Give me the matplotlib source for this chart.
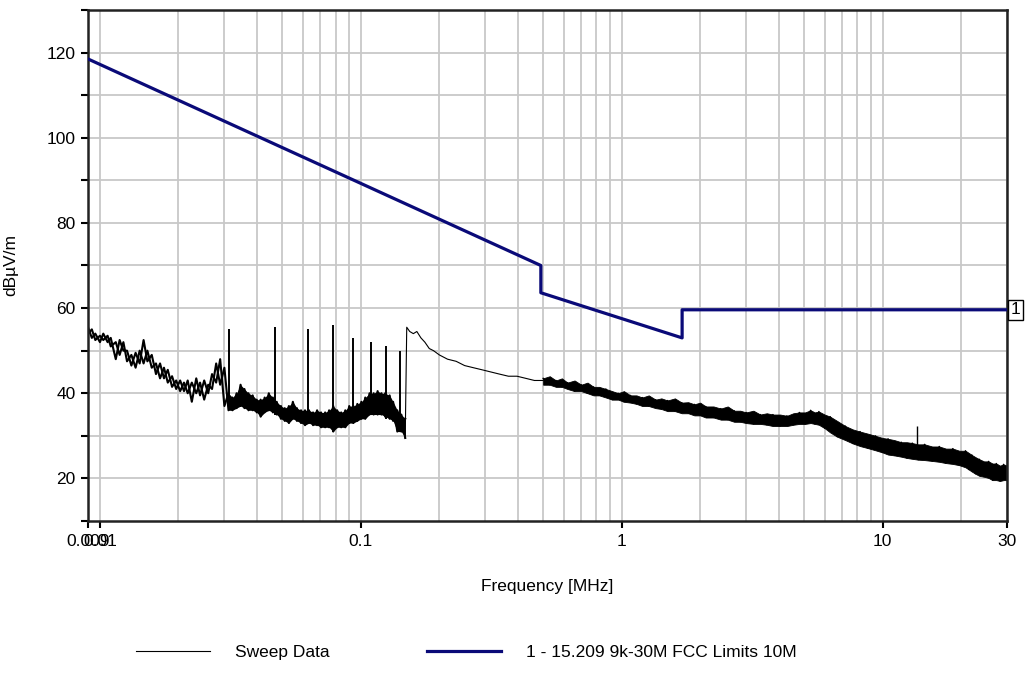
import matplotlib
matplotlib.use("Agg")
import matplotlib.pyplot as plt
import matplotlib.transforms as mtransforms

plt.rcParams['font.family'] = ['Liberation Sans', 'DejaVu Sans']

# ---------------- data ----------------
# Limit line: 15.209 9k-30M FCC Limits 10M
limit_f = [0.009, 0.49, 0.49, 1.705, 1.705, 30.0]
limit_v = [118.5, 70.0, 63.6, 53.0, 59.6, 59.6]

# Sweep data, noisy region 0.009-0.148 MHz (frequency, upper, lower of the noise)
bandA_f = [0.0090, 0.00931, 0.0096, 0.0100, 0.0103, 0.0107, 0.0110, 0.0115, 0.0119, 0.0123,
           0.0127, 0.0132, 0.0137, 0.0142, 0.0147, 0.0152, 0.0158, 0.0164, 0.0170, 0.0176,
           0.0182, 0.0189, 0.0196, 0.0203, 0.0210, 0.0217, 0.0225, 0.0234, 0.0242, 0.0251,
           0.0260, 0.0269, 0.0279, 0.0289, 0.0300, 0.0311, 0.0322, 0.0334, 0.0346, 0.0358,
           0.0371, 0.0385, 0.0399, 0.0413, 0.0428, 0.0444, 0.0460, 0.0476, 0.0494, 0.0511,
           0.0530, 0.0549, 0.0569, 0.0590, 0.0611, 0.0633, 0.0656, 0.0680, 0.0704, 0.0730,
           0.0756, 0.0784, 0.0812, 0.0841, 0.0872, 0.0903, 0.0936, 0.0970, 0.1005, 0.104,
           0.108, 0.112, 0.116, 0.120, 0.124, 0.129, 0.133, 0.138, 0.143, 0.148]
bandA_hi = [55.5, 55.0, 54.0, 53.5, 54.0, 53.5, 53.0, 52.0, 52.5, 52.0,
            50.0, 49.0, 49.5, 50.0, 52.5, 50.0, 49.0, 47.0, 47.0, 46.0,
            45.5, 44.0, 43.0, 43.0, 42.5, 43.0, 42.5, 43.5, 42.5, 43.0,
            42.0, 44.5, 47.0, 48.0, 46.0, 40.0, 39.0, 40.0, 42.0, 41.0,
            40.0, 39.5, 38.5, 38.5, 39.0, 40.0, 39.0, 38.0, 37.0, 36.5,
            37.0, 38.0, 36.5, 36.0, 36.0, 36.0, 35.5, 36.0, 35.5, 35.5,
            36.0, 37.0, 36.0, 35.5, 36.0, 37.0, 37.0, 37.5, 38.0, 39.0,
            40.0, 40.0, 40.5, 40.0, 40.0, 39.5, 38.0, 36.0, 35.0, 34.0]
bandA_lo = [54.0, 53.0, 52.5, 52.0, 52.5, 52.0, 51.0, 48.0, 49.0, 50.0,
            47.5, 46.5, 46.0, 47.0, 47.0, 47.5, 46.0, 44.5, 43.5, 43.5,
            42.5, 41.5, 41.0, 40.5, 40.5, 40.0, 38.0, 40.0, 39.5, 38.5,
            40.0, 41.0, 42.5, 42.0, 37.0, 36.0, 36.0, 36.5, 37.0, 36.5,
            36.0, 36.0, 35.5, 34.5, 35.5, 36.0, 35.5, 35.0, 34.0, 33.5,
            33.0, 34.0, 33.5, 33.0, 32.5, 33.0, 32.5, 32.5, 32.0, 32.0,
            32.0, 31.0, 32.0, 32.0, 32.0, 33.0, 33.0, 33.5, 34.0, 34.0,
            35.0, 35.0, 35.0, 35.0, 34.5, 34.0, 33.5, 31.0, 31.0, 29.5]

# Harmonic spikes below 0.15 MHz (frequency, top, bottom)
spike_f = [0.0313, 0.0469, 0.0627, 0.0781, 0.0936, 0.1093, 0.1249, 0.1414]
spike_top = [55.0, 55.5, 55.0, 56.0, 53.0, 52.0, 51.0, 50.0]
spike_bot = [36.0, 35.0, 33.0, 31.0, 33.0, 35.0, 34.0, 31.0]

# Thin trace 0.15-0.5 MHz
thin_f = [0.148, 0.150, 0.154, 0.159, 0.164, 0.170, 0.176, 0.183, 0.190, 0.200,
          0.215, 0.232, 0.250, 0.270, 0.292, 0.315, 0.340, 0.368, 0.397, 0.429, 0.463, 0.50]
thin_v = [29.5, 55.5, 54.5, 54.0, 54.5, 53.0, 52.0, 50.5, 50.0, 49.0,
          48.0, 47.5, 46.5, 46.0, 45.5, 45.0, 44.5, 44.0, 44.0, 43.5, 43.0, 43.0]

# Sweep data, dense region 0.5-30 MHz (frequency, upper, lower of the noise band)
bandC_f = [0.50, 0.53, 0.56, 0.59, 0.62, 0.66, 0.70, 0.74, 0.78, 0.82,
           0.87, 0.92, 0.97, 1.02, 1.08, 1.14, 1.2, 1.27, 1.35, 1.42,
           1.5, 1.6, 1.7, 1.8, 1.9, 2.0, 2.1, 2.25, 2.4, 2.55,
           2.7, 2.85, 3.0, 3.2, 3.4, 3.6, 3.8, 4.05, 4.3, 4.55,
           4.8, 5.05, 5.3, 5.5, 5.7, 6.0, 6.3, 6.7, 7.2, 7.7,
           8.2, 8.8, 9.4, 10.0, 10.5, 11.1, 11.8, 12.4, 13.0, 13.7,
           14.5, 15.5, 16.5, 17.5, 18.6, 19.7, 20.8, 21.4, 22.0, 22.7,
           23.5, 24.5, 25.5, 26.4, 27.3, 28.2, 29.1, 30.0]
bandC_hi = [43.5, 44.0, 43.0, 43.5, 42.5, 43.0, 42.0, 42.5, 41.5, 41.5,
            41.0, 40.5, 40.0, 40.5, 39.5, 39.5, 39.0, 39.5, 38.5, 38.8,
            38.3, 38.8, 37.8, 37.9, 37.4, 37.8, 36.9, 36.9, 36.4, 36.9,
            35.9, 35.9, 35.5, 35.9, 35.0, 35.3, 35.0, 35.0, 34.7, 35.3,
            35.5, 35.5, 36.0, 35.5, 35.7, 35.0, 34.5, 33.5, 32.3, 31.5,
            31.0, 30.5, 30.0, 29.5, 29.3, 29.0, 28.5, 28.5, 28.3, 28.0,
            28.0, 27.5, 27.5, 27.0, 27.0, 26.5, 26.5, 26.0, 25.5, 25.0,
            24.5, 24.0, 24.0, 23.5, 23.5, 23.0, 23.3, 23.0]
bandC_lo = [42.0, 42.0, 41.5, 41.5, 41.0, 40.5, 40.5, 40.0, 39.5, 39.5,
            39.0, 38.5, 38.5, 38.0, 37.8, 37.5, 37.0, 37.0, 36.5, 36.3,
            35.8, 35.8, 35.3, 35.3, 34.8, 34.8, 34.3, 34.3, 33.8, 33.8,
            33.3, 33.3, 33.0, 32.8, 32.8, 32.6, 32.3, 32.3, 32.3, 32.6,
            32.8, 32.8, 33.0, 32.8, 32.6, 31.8, 30.8, 29.8, 29.0, 28.2,
            27.6, 27.1, 26.6, 26.1, 25.6, 25.4, 25.1, 24.8, 24.6, 24.4,
            24.3, 24.1, 23.9, 23.6, 23.4, 23.1, 22.6, 22.1, 21.6, 21.1,
            20.6, 20.4, 20.1, 19.6, 19.6, 19.4, 19.6, 19.6]
spikeC_f = [13.5]
spikeC_top = [32.3]
spikeC_bot = [26.0]

xtick_vals = [0.009, 0.01, 0.1, 1, 10, 30]
xtick_labels = ['0.009', '0.01', '0.1', '1', '10', '30']
ytick_vals = [20, 40, 60, 80, 100, 120]


def zigzag(f, hi, lo, start_high=True):
    """Trace that alternates between the read upper and lower values."""
    first = 0 if start_high else 1
    return list(f), [h if i % 2 == first else l for i, (h, l) in enumerate(zip(hi, lo))]


# ---------------- figure ----------------
FS = 12.5
fig = plt.figure(figsize=(10.27, 6.87), dpi=100)
ax = fig.add_axes([88 / 1027, 1 - 521 / 687, (1007 - 88) / 1027, (521 - 10) / 687])

ax.set_xscale('log')
ax.set_xlim(0.009, 30)
ax.set_ylim(10, 130)

# grid
grid_x = [m * 10.0 ** e for e in range(-2, 2) for m in range(1, 10) if m * 10.0 ** e <= 30]
for gx in grid_x:
    ax.axvline(gx, color='#c8c8c8', lw=1.3, zorder=0)
for gy in range(20, 130, 10):
    ax.axhline(gy, color='#c8c8c8', lw=1.3, zorder=0)

# sweep data
xa, ya = zigzag(bandA_f, bandA_hi, bandA_lo, True)
ax.plot(xa, ya, color='black', lw=1.5, zorder=2)
xa2, ya2 = zigzag(bandA_f, bandA_hi, bandA_lo, False)
ax.plot(xa2, ya2, color='black', lw=1.5, zorder=2)
dense = 35
ax.fill_between(bandA_f[dense:], bandA_lo[dense:], bandA_hi[dense:], color='black', lw=0, zorder=2)
ax.vlines(spike_f, spike_bot, spike_top, color='black', lw=1.4, zorder=2)
ax.plot(thin_f, thin_v, color='black', lw=0.8, zorder=2)
ax.fill_between(bandC_f, bandC_lo, bandC_hi, color='black', lw=0.6, zorder=2)
xc, yc = zigzag(bandC_f, bandC_hi, bandC_lo)
ax.plot(xc, yc, color='black', lw=1.0, zorder=2)
ax.vlines(spikeC_f, spikeC_bot, spikeC_top, color='black', lw=1.0, zorder=2)
sweep_handle, = ax.plot([], [], color='black', lw=0.8)

# limit line
limit_handle, = ax.plot(limit_f, limit_v, color='#0a0a78', lw=2.3, zorder=3)

# marker box "1" at right edge
trans = mtransforms.blended_transform_factory(ax.transAxes, ax.transData)
ax.text(1.004, limit_v[-1], '1', transform=trans, ha='left', va='center', fontsize=FS,
        bbox=dict(boxstyle='square,pad=0.15', fc='white', ec='black', lw=1.0), clip_on=False)

# ticks
ax.set_xticks(xtick_vals)
ax.set_xticklabels(xtick_labels)
ax.xaxis.set_minor_locator(matplotlib.ticker.NullLocator())
ax.set_yticks(ytick_vals)
ax.set_yticks(list(range(10, 131, 10)), minor=True)
ax.tick_params(axis='both', which='major', direction='out', length=5, width=1.5,
               labelsize=FS, color='black', pad=4)
ax.tick_params(axis='y', which='minor', direction='out', length=5, width=1.5, color='black')
for s in ax.spines.values():
    s.set_linewidth(1.8)
    s.set_color('#222222')

ax.set_xlabel('Frequency [MHz]', fontsize=FS, labelpad=22)
ax.set_ylabel('dBµV/m', fontsize=FS, labelpad=20)

# legend
fig.legend([sweep_handle, limit_handle], ['Sweep Data', '1 - 15.209 9k-30M FCC Limits 10M'],
           loc='center', bbox_to_anchor=(466 / 1027, 1 - 652 / 687), ncol=2, frameon=False,
           fontsize=FS, handlelength=4.3, columnspacing=5.6, handletextpad=1.4)

fig.savefig('out.png', dpi=100)
